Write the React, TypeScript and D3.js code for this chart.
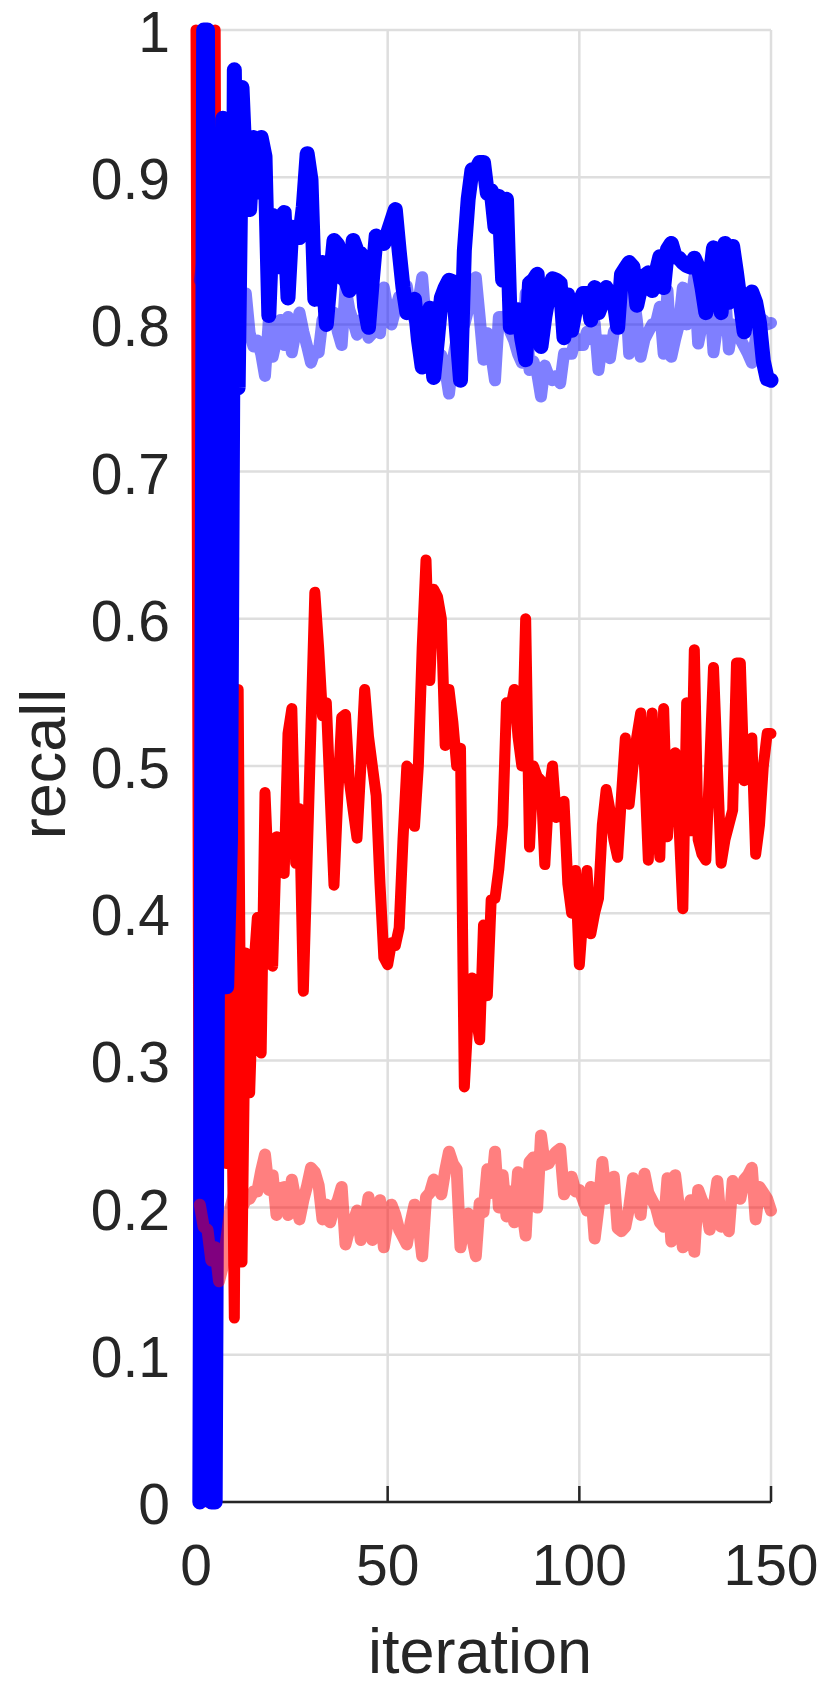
import { scaleLinear, line } from "d3";

// iteration axis and recall axis
const xTicks = [0, 50, 100, 150];
const yTicks = [0, 0.1, 0.2, 0.3, 0.4, 0.5, 0.6, 0.7, 0.8, 0.9, 1];
const yTickLabels = ["0", "0.1", "0.2", "0.3", "0.4", "0.5", "0.6", "0.7", "0.8", "0.9", "1"];

// red series, iterations 0..150
const redRecall = [
  1, 0, 1, 0, 0, 1, 0.24, 0.35, 0.23, 0.36,
  0.125, 0.552, 0.163, 0.373, 0.278, 0.36, 0.397, 0.305, 0.482, 0.42,
  0.364, 0.452, 0.44, 0.427, 0.522, 0.539, 0.434, 0.471, 0.347, 0.437,
  0.527, 0.618, 0.58, 0.534, 0.543, 0.48, 0.419, 0.48, 0.533, 0.535,
  0.49, 0.47, 0.451, 0.5, 0.552, 0.52, 0.5, 0.48, 0.42, 0.37,
  0.365, 0.38, 0.378, 0.39, 0.45, 0.5, 0.497, 0.459, 0.5, 0.58,
  0.64, 0.558, 0.62, 0.615, 0.6, 0.514, 0.552, 0.53, 0.5, 0.512,
  0.282, 0.33, 0.356, 0.33, 0.314, 0.392, 0.344, 0.409, 0.41, 0.43,
  0.46, 0.543, 0.538, 0.552, 0.52, 0.5, 0.6, 0.445, 0.5, 0.493,
  0.49, 0.433, 0.48, 0.5, 0.465, 0.47, 0.476, 0.42, 0.4, 0.429,
  0.365, 0.4, 0.429, 0.386, 0.4, 0.41, 0.46, 0.484, 0.47, 0.45,
  0.438, 0.48, 0.519, 0.474, 0.5, 0.52, 0.536, 0.5, 0.436, 0.536,
  0.47, 0.438, 0.539, 0.452, 0.5, 0.509, 0.46, 0.403, 0.543, 0.456,
  0.579, 0.45, 0.44, 0.436, 0.5, 0.567, 0.5, 0.434, 0.45, 0.46,
  0.47, 0.57, 0.57, 0.49, 0.5, 0.519, 0.44, 0.46, 0.5, 0.522,
  0.522,
];

// blue series, iterations 1..150
const blueRecall = [
  0, 1, 1, 0, 0, 0.6, 0.94, 0.35, 0.45, 0.973,
  0.757, 0.961, 0.9, 0.878, 0.927, 0.89, 0.927, 0.914, 0.806, 0.874,
  0.839, 0.86, 0.876, 0.818, 0.866, 0.862, 0.859, 0.88, 0.916, 0.898,
  0.817, 0.83, 0.842, 0.8, 0.83, 0.857, 0.854, 0.832, 0.83, 0.823,
  0.857, 0.85, 0.848, 0.812, 0.798, 0.83, 0.86, 0.858, 0.855, 0.862,
  0.87, 0.878, 0.85, 0.825, 0.808, 0.812, 0.817, 0.79, 0.771, 0.79,
  0.811, 0.764, 0.79, 0.818, 0.825, 0.83, 0.829, 0.795, 0.762, 0.85,
  0.885, 0.905, 0.905, 0.91, 0.91, 0.889, 0.891, 0.866, 0.887, 0.83,
  0.885, 0.798, 0.805, 0.81, 0.79, 0.776, 0.828, 0.83, 0.834, 0.785,
  0.805, 0.82, 0.831, 0.83, 0.828, 0.791, 0.82, 0.796, 0.81, 0.815,
  0.821, 0.821, 0.803, 0.825, 0.808, 0.815, 0.825, 0.82, 0.817, 0.798,
  0.834, 0.838, 0.842, 0.839, 0.813, 0.825, 0.833, 0.835, 0.823, 0.835,
  0.846, 0.825, 0.851, 0.855, 0.846, 0.845, 0.842, 0.84, 0.839, 0.845,
  0.839, 0.825, 0.808, 0.83, 0.852, 0.83, 0.808, 0.855, 0.815, 0.853,
  0.835, 0.815, 0.795, 0.81, 0.822, 0.815, 0.801, 0.775, 0.763, 0.762,
];

// faded blue series, iterations 1..150
const lightBlueRecall = [
  0.83, 0.85, 0.8, 0.82, 0.85, 0.82, 0.8, 0.83, 0.81, 0.8,
  0.815, 0.8, 0.821, 0.794, 0.785, 0.789, 0.78, 0.765, 0.803, 0.778,
  0.79, 0.803, 0.786, 0.805, 0.781, 0.795, 0.808, 0.795, 0.785, 0.774,
  0.782, 0.781, 0.803, 0.808, 0.806, 0.808, 0.795, 0.786, 0.825, 0.81,
  0.802, 0.793, 0.803, 0.8, 0.791, 0.794, 0.8, 0.794, 0.825, 0.81,
  0.8, 0.81, 0.819, 0.81, 0.826, 0.81, 0.803, 0.815, 0.832, 0.8,
  0.794, 0.785, 0.781, 0.779, 0.77, 0.753, 0.776, 0.79, 0.815, 0.8,
  0.81, 0.82, 0.832, 0.805, 0.776, 0.794, 0.78, 0.762, 0.805, 0.805,
  0.806, 0.795, 0.789, 0.78, 0.774, 0.821, 0.769, 0.775, 0.767, 0.751,
  0.772, 0.765, 0.762, 0.765, 0.76, 0.78, 0.78, 0.78, 0.791, 0.786,
  0.786, 0.795, 0.79, 0.801, 0.769, 0.789, 0.789, 0.777, 0.795, 0.8,
  0.817, 0.826, 0.78, 0.823, 0.803, 0.778, 0.79, 0.795, 0.8, 0.801,
  0.812, 0.78, 0.823, 0.778, 0.79, 0.8, 0.825, 0.8, 0.81, 0.832,
  0.787, 0.8, 0.81, 0.82, 0.781, 0.8, 0.81, 0.823, 0.783, 0.8,
  0.795, 0.79, 0.785, 0.78, 0.774, 0.79, 0.8, 0.803, 0.8, 0.801,
];

// faded red series, iterations 1..150
const lightRedRecall = [
  0.202, 0.187, 0.185, 0.164, 0.173, 0.15, 0.16, 0.18, 0.2, 0.21,
  0.2, 0.2, 0.205, 0.206, 0.211, 0.211, 0.225, 0.236, 0.212, 0.222,
  0.195, 0.213, 0.214, 0.195, 0.219, 0.205, 0.192, 0.205, 0.215, 0.227,
  0.224, 0.215, 0.192, 0.202, 0.19, 0.2, 0.205, 0.214, 0.175, 0.185,
  0.19, 0.198, 0.178, 0.19, 0.207, 0.178, 0.19, 0.205, 0.173, 0.19,
  0.202, 0.195, 0.185, 0.18, 0.175, 0.19, 0.202, 0.19, 0.167, 0.207,
  0.21, 0.219, 0.215, 0.209, 0.225, 0.238, 0.23, 0.226, 0.173, 0.19,
  0.196, 0.18, 0.167, 0.203, 0.197, 0.226, 0.21, 0.238, 0.2, 0.222,
  0.194, 0.211, 0.19, 0.224, 0.2, 0.181, 0.231, 0.234, 0.2, 0.249,
  0.229, 0.23, 0.235, 0.238, 0.24, 0.209, 0.215, 0.221, 0.211, 0.212,
  0.205, 0.198, 0.214, 0.179, 0.2, 0.231, 0.206, 0.21, 0.221, 0.186,
  0.184, 0.187, 0.2, 0.22, 0.21, 0.195, 0.223, 0.21, 0.205, 0.2,
  0.19, 0.187, 0.22, 0.177, 0.222, 0.2, 0.173, 0.19, 0.205, 0.17,
  0.212, 0.205, 0.2, 0.185, 0.2, 0.218, 0.187, 0.19, 0.184, 0.218,
  0.21, 0.206, 0.219, 0.222, 0.227, 0.192, 0.214, 0.21, 0.206, 0.198,
];

const textColor = "#262626";
const gridColor = "#dedede";
const font = "'Liberation Sans', Arial, Helvetica, sans-serif";

export default function App() {
  const width = 830;
  const height = 1695;

  const x = scaleLinear().domain([0, 150]).range([196, 771]);
  const y = scaleLinear().domain([0, 1]).range([1502, 30]);

  function path(values: number[], start: number) {
    const gen = line<number>()
      .x((d, i) => x(i + start))
      .y((d) => y(d));
    return gen(values) || "";
  }

  const series = [
    { values: redRecall, start: 0, color: "#ff0000", opacity: 1, w: 11 },
    { values: blueRecall, start: 1, color: "#0000ff", opacity: 1, w: 15 },
    { values: lightBlueRecall, start: 1, color: "#0000ff", opacity: 0.5, w: 12 },
    { values: lightRedRecall, start: 1, color: "#ff0000", opacity: 0.5, w: 12 },
  ];

  return (
    <svg
      width={width}
      height={height}
      style={{ position: "absolute", left: 0, top: 0, background: "white" }}
    >
      {/* grid */}
      {yTicks.map((t) => (
        <line
          key={"gy" + t}
          x1={x(0)}
          x2={x(150)}
          y1={y(t)}
          y2={y(t)}
          stroke={gridColor}
          strokeWidth={2.5}
        />
      ))}
      {xTicks.map((t) => (
        <line
          key={"gx" + t}
          x1={x(t)}
          x2={x(t)}
          y1={y(0)}
          y2={y(1)}
          stroke={gridColor}
          strokeWidth={2.5}
        />
      ))}

      {/* axes */}
      <line x1={x(0)} x2={x(150)} y1={y(0)} y2={y(0)} stroke={textColor} strokeWidth={2.5} />
      <line x1={x(0)} x2={x(0)} y1={y(0)} y2={y(1)} stroke={textColor} strokeWidth={2.5} />
      {xTicks.map((t) => (
        <line
          key={"tx" + t}
          x1={x(t)}
          x2={x(t)}
          y1={y(0)}
          y2={y(0) - 16}
          stroke={textColor}
          strokeWidth={2.5}
        />
      ))}
      {yTicks.map((t) => (
        <line
          key={"ty" + t}
          x1={x(0)}
          x2={x(0) + 16}
          y1={y(t)}
          y2={y(t)}
          stroke={textColor}
          strokeWidth={2.5}
        />
      ))}

      {/* data */}
      {series.map((s, k) => (
        <path
          key={k}
          d={path(s.values, s.start)}
          fill="none"
          stroke={s.color}
          strokeOpacity={s.opacity}
          strokeWidth={s.w}
          strokeLinejoin="round"
          strokeLinecap="round"
        />
      ))}

      {/* tick labels */}
      {yTicks.map((t, i) => (
        <text
          key={"ly" + t}
          x={170}
          y={y(t) + 22}
          textAnchor="end"
          fontFamily={font}
          fontSize={57}
          fill={textColor}
        >
          {yTickLabels[i]}
        </text>
      ))}
      {xTicks.map((t) => (
        <text
          key={"lx" + t}
          x={x(t)}
          y={1585}
          textAnchor="middle"
          fontFamily={font}
          fontSize={57}
          fill={textColor}
        >
          {t}
        </text>
      ))}

      {/* axis labels */}
      <text
        x={480}
        y={1673}
        textAnchor="middle"
        fontFamily={font}
        fontSize={63}
        fill={textColor}
      >
        iteration
      </text>
      <text
        transform={`translate(65,764) rotate(-90)`}
        textAnchor="middle"
        fontFamily={font}
        fontSize={63}
        fill={textColor}
      >
        recall
      </text>
    </svg>
  );
}
